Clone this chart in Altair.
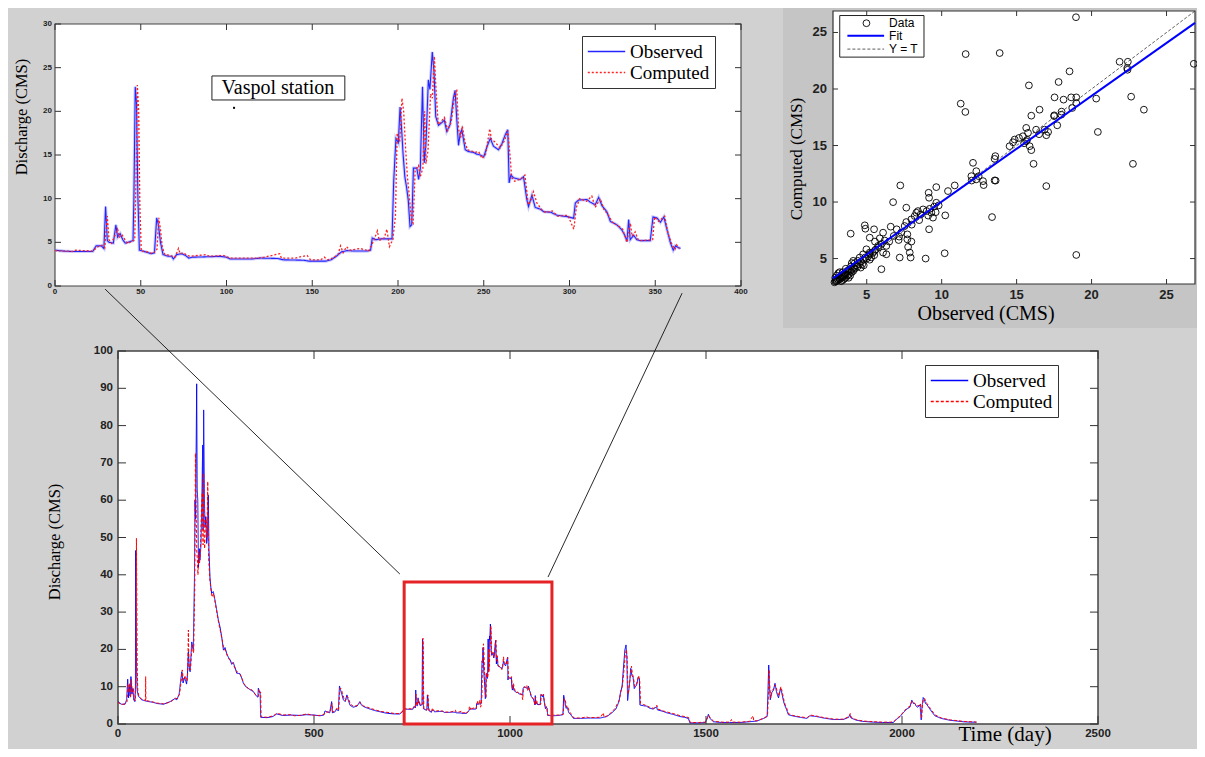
import altair as alt
import pandas as pd

# ---------------------------------------------------------------- data
SERIES = ["Observed", "Computed"]
ZOOM_START = 730          # inset day 0 corresponds to main-chart day 730

# inset (Vaspol station, one year)  (day, discharge)
inset_obs = [
    (0, 4.1), (5, 4.0), (10, 3.95), (22, 3.95), (24, 4.6), (27, 4.6), (28.5, 4.3), (29.5, 9.1), (30.5, 5.2), (31.5, 5.0),
    (34, 4.9), (35.5, 7.0), (36.5, 5.6), (38, 6.0), (39.5, 5.3), (41, 4.9), (44, 5.1), (45.5, 5.2), (46, 10.0), (46.8, 22.8),
    (47.5, 21.0), (48.3, 10.5), (49.2, 4.1), (53, 3.9), (56, 3.7), (58, 3.8), (59.3, 7.8), (60.3, 7.0), (61.5, 5.0), (63, 3.6),
    (66, 3.4), (68, 3.4), (69, 3.1), (71, 3.6), (74, 3.7), (76, 3.5), (78, 3.2), (80, 3.3), (90, 3.35), (96, 3.4),
    (100, 3.3), (102, 3.1), (115, 3.1), (120, 3.2), (130, 3.15), (133, 3.0), (145, 2.95), (148, 2.85), (158, 2.85), (161, 3.0),
    (164, 3.4), (167, 3.9), (170, 4.05), (175, 4.0), (182, 4.0), (184, 4.1), (185, 5.5), (187, 5.3), (190, 5.4), (196.5, 5.4),
    (197.5, 12.0), (198.8, 16.9), (200.2, 16.4), (201.2, 20.5), (202.1, 18.0), (203, 15.0), (204, 12.5), (205, 11.3), (206, 9.8), (207, 6.8),
    (208, 7.0), (209, 13.5), (211, 13.5), (212, 12.2), (213, 13.4), (214.3, 22.8), (215.3, 14.1), (216.3, 16.3), (217.7, 23.6), (218.6, 22.5),
    (220, 26.8), (221, 24.5), (222, 19.4), (223.6, 18.4), (225.5, 18.7), (227, 19.0), (228.4, 17.7), (230.4, 18.5), (232.3, 21.5), (233.3, 22.4),
    (234.3, 19.0), (235.3, 16.1), (236.3, 17.5), (237.2, 17.9), (239.2, 15.6), (241, 15.4), (244, 15.3), (246, 15.1), (248, 15.0), (250, 14.8),
    (252, 16.0), (253.8, 16.9), (255.7, 16.0), (258.6, 15.6), (260.6, 16.3), (262.5, 17.3), (264, 17.9), (264.8, 11.8), (265.8, 12.7), (267.3, 12.4),
    (271.2, 12.2), (273.2, 12.5), (275.1, 9.9), (276.1, 9.1), (278.1, 10.4), (280, 9.0), (283, 8.8), (285, 8.5), (289, 8.45), (292.7, 8.1),
    (298.5, 7.95), (302.4, 7.75), (303.4, 9.5), (305.3, 9.85), (310.2, 9.9), (312.1, 9.6), (315, 9.3), (317, 10.15), (318.9, 9.2), (321.8, 8.5),
    (323.8, 7.4), (327.7, 7.0), (330.6, 6.4), (332.5, 5.7), (333.5, 5.1), (334.5, 7.6), (335.4, 5.3), (337.4, 5.8), (339.3, 5.3), (341.3, 5.2),
    (347.1, 5.2), (348.7, 7.9), (351, 7.8), (353, 7.3), (355, 7.9), (356.9, 6.4), (358.9, 4.9), (360.5, 4.1), (361.8, 4.6), (363.4, 4.4),
    (364.7, 4.3),
]
inset_cmp = [
    (0, 4.05), (10, 3.95), (12, 4.1), (22, 4.0), (25, 4.5), (28, 4.7), (29, 4.4), (30.5, 8.0), (31.5, 5.3), (33, 4.9),
    (36.5, 6.5), (37.5, 5.6), (39, 5.9), (40.5, 5.4), (42, 4.9), (45, 5.1), (46.5, 5.3), (47.2, 12.0), (48, 23.0), (48.8, 20.0),
    (49.5, 9.0), (50.3, 4.0), (54, 3.9), (57, 3.7), (59.5, 4.2), (60.5, 7.8), (61.5, 6.5), (62.5, 4.5), (64, 3.6), (67, 3.5),
    (70, 3.3), (72, 4.3), (73, 3.7), (75, 3.8), (77, 3.5), (79, 3.4), (88, 3.6), (90, 3.4), (98, 3.5), (102, 3.2),
    (118, 3.2), (122, 3.3), (131, 3.7), (132, 3.2), (140, 3.2), (147, 3.5), (149, 3.0), (155, 3.0), (157, 3.3), (159, 3.0),
    (162, 3.2), (165, 3.6), (166.5, 4.6), (168, 3.8), (170, 4.5), (172, 4.1), (178, 4.3), (183, 4.0), (186, 5.3), (188, 6.3),
    (189, 5.2), (192, 5.5), (193.5, 6.5), (195, 4.5), (197, 5.3), (198.5, 8.0), (199.5, 17.5), (201, 16.5), (202.3, 21.5), (203.3, 20.0),
    (204.5, 15.5), (205.5, 12.5), (206.5, 10.5), (207.8, 7.5), (208.8, 7.2), (210, 13.2), (212, 13.8), (213, 12.5), (214.5, 13.5), (215.5, 20.0),
    (216.3, 14.0), (217.5, 15.5), (219, 22.0), (220, 21.5), (221.2, 26.3), (222.3, 22.0), (223.5, 18.5), (225, 18.8), (227, 19.3), (229, 17.8),
    (231, 18.8), (233, 21.8), (234.3, 22.5), (235.3, 18.0), (236.5, 17.0), (237.5, 18.3), (239, 16.5), (240.5, 15.6), (245, 15.3), (247, 15.4),
    (249, 14.6), (251, 15.0), (253.5, 18.0), (254.5, 16.8), (256.5, 16.5), (259.5, 15.8), (262, 16.6), (264, 17.8), (265.3, 15.0), (266.3, 12.4),
    (268, 12.0), (272, 12.3), (274, 12.7), (276, 9.3), (277.2, 9.6), (279, 10.8), (281, 9.5), (284, 8.7), (286, 8.4), (290, 8.6),
    (293, 8.0), (299, 8.1), (302.5, 6.5), (304, 9.0), (306, 10.0), (310, 9.7), (313, 10.3), (315, 9.0), (318, 10.0), (320, 8.8),
    (323, 8.0), (325, 7.3), (329, 6.8), (331, 6.5), (333.5, 5.0), (335.5, 7.2), (336.5, 5.7), (338.3, 6.2), (340, 5.3), (342, 5.2),
    (348.5, 5.3), (349.6, 7.9), (352, 7.4), (355.5, 8.0), (357.5, 6.0), (359.8, 4.7), (361.5, 4.2), (362.5, 4.7), (364, 4.3),
]

# main series outside the zoomed year  (day, discharge)
main_obs_a = [
    (0, 6.0), (9, 5.3), (18, 5.3), (22, 6.5), (24.7, 12.0), (27, 7.0), (29, 10.5), (31, 7.5), (33, 12.7), (35.5, 8.0),
    (38, 9.5), (40, 6.5), (43, 6.0), (44.5, 10.0), (45, 46.5), (46, 33.0), (47.5, 14.7), (49, 9.0), (52, 7.5), (60, 6.5),
    (73, 6.1), (90, 5.8), (99, 5.5), (116, 5.3), (133, 6.0), (145, 6.8), (150, 6.5), (156, 8.0), (158, 10.0), (162.7, 14.0),
    (166, 11.0), (170, 12.5), (175, 10.7), (177, 13.0), (179.5, 19.4), (182, 15.0), (184, 14.0), (188, 22.0), (192, 20.0), (195, 38.6),
    (196.4, 60.0), (198, 55.0), (200.7, 91.2), (202, 63.0), (203.5, 60.0), (205.3, 42.0), (207.5, 47.0), (209, 44.0), (211.7, 48.0), (214, 60.0),
    (216, 74.8), (217, 52.0), (218.5, 84.2), (220.5, 60.0), (222, 52.9), (224, 55.6), (226.2, 48.4), (228, 50.0), (230.4, 61.4), (232, 47.0),
    (234.7, 39.1), (237, 36.5), (239, 35.0), (243, 35.5), (247.4, 33.2), (251.7, 30.6), (256, 27.9), (260, 26.1), (264.5, 23.4), (269, 19.8),
    (273, 20.5), (277, 19.0), (281, 18.0), (286, 17.2), (290, 16.0), (294, 16.5), (299, 15.0), (303, 13.6), (311, 13.5), (316, 12.2),
    (320, 10.9), (326, 10.0), (333, 9.5), (340, 9.0), (345.4, 8.7), (350, 8.0), (354, 7.4), (357, 7.2), (358, 9.6), (361, 8.6),
    (362.5, 8.7), (364, 1.8), (380, 1.7), (395, 2.0), (405, 2.7), (420, 2.3), (440, 2.4), (464, 2.3), (480, 2.5), (500, 2.4),
    (515, 2.2), (525, 2.4), (528, 3.5), (540, 3.0), (545, 6.0), (547, 3.0), (553, 3.2), (558, 4.0), (562, 3.5), (565, 10.2),
    (568, 9.0), (571, 8.0), (575, 6.5), (579.5, 6.0), (584, 7.8), (587, 6.5), (592, 5.0), (600, 4.5), (610, 4.8), (617, 6.0),
    (620, 5.2), (626, 4.7), (635, 4.3), (643, 4.0), (655, 3.6), (668, 3.3), (680, 3.0), (694, 2.8), (705, 2.7), (719, 2.7),
    (725, 3.2),
]
main_obs_b = [
    (1096, 2.3), (1110, 2.2), (1125, 2.3), (1135, 2.5), (1137, 7.7), (1140, 6.0), (1143, 4.2), (1146, 4.5), (1150, 3.0), (1155, 2.5),
    (1162, 1.5), (1180, 1.5), (1200, 1.6), (1230, 1.6), (1247, 2.0), (1260, 3.0), (1270, 4.0), (1278, 6.0), (1282, 8.5), (1286, 10.0),
    (1289, 14.5), (1293, 19.8), (1296, 21.2), (1298, 18.0), (1300, 6.3), (1303, 9.0), (1306, 12.0), (1308, 14.9), (1311, 13.0), (1314, 12.5),
    (1317, 9.5), (1320, 10.0), (1323, 10.5), (1327, 12.5), (1330, 12.2), (1331.5, 5.1), (1340, 4.9), (1348, 4.8), (1355, 4.3), (1365, 4.0),
    (1374, 4.6), (1376, 3.8), (1390, 3.4), (1400, 3.0), (1415, 2.6), (1434, 2.0), (1445, 1.8), (1455, 1.5), (1459, 0.3), (1480, 0.3),
    (1498, 0.4), (1503, 1.5), (1506, 2.6), (1510, 1.5), (1519, 0.6), (1540, 0.4), (1560, 0.4), (1587, 0.4), (1610, 0.6), (1630, 0.8),
    (1647, 1.5), (1656, 2.0), (1658, 8.2), (1660, 15.8), (1662, 10.0), (1664, 6.5), (1668, 8.5), (1672, 9.0), (1676, 10.9), (1680, 8.5),
    (1685, 7.0), (1690, 9.6), (1693, 8.5), (1698, 6.0), (1701, 5.0), (1705, 4.0), (1710, 2.5), (1720, 2.2), (1740, 1.8), (1757, 1.5),
    (1765, 2.2), (1782, 2.0), (1800, 1.6), (1825, 1.2), (1850, 1.2), (1864, 1.8), (1867, 2.5), (1870, 1.6), (1884, 1.0), (1900, 0.7),
    (1927, 0.5), (1950, 0.4), (1969, 0.4), (1978, 0.4), (1985, 1.2), (1995, 2.0), (2003, 3.0), (2012, 4.0), (2020, 4.5), (2025, 6.4),
    (2029, 5.5), (2033, 5.5), (2036, 4.8), (2040, 4.5), (2046, 5.1), (2049, 1.1), (2051, 4.5), (2054, 7.1), (2057, 6.5), (2060, 5.5),
    (2063, 5.3), (2071, 4.0), (2078, 3.0), (2084, 2.2), (2100, 1.5), (2122, 1.0), (2140, 0.8), (2156, 0.6), (2175, 0.5), (2190, 0.5),
]
main_cmp_a = [
    (0, 5.8), (9, 5.2), (18, 5.4), (23, 6.0), (25.5, 10.5), (27.5, 8.5), (30, 11.0), (32, 7.0), (34, 12.0), (36.5, 8.5),
    (39, 9.5), (41, 6.8), (44, 6.2), (46, 12.0), (47, 49.8), (48, 35.0), (49, 15.0), (50.5, 9.0), (53, 7.5), (61, 6.6),
    (70, 6.3), (70.6, 12.7), (71.2, 6.3), (85, 6.0), (100, 5.6), (117, 5.4), (134, 5.9), (146, 6.9), (151, 6.8), (157, 8.0),
    (160, 10.5), (164, 14.5), (167, 11.5), (171, 13.0), (176, 11.5), (178, 14.0), (179.5, 25.2), (181, 15.0), (185, 14.5), (189, 21.0),
    (193, 19.0), (196, 38.0), (197.5, 72.6), (199, 60.0), (201, 46.0), (202.5, 44.0), (204, 40.0), (206, 46.0), (208, 43.0), (210, 46.0),
    (213, 58.0), (215, 62.0), (217, 48.0), (218.5, 67.2), (220, 50.0), (221, 47.0), (223, 54.0), (225, 55.0), (227, 50.0), (229, 65.0),
    (231, 45.0), (233, 41.0), (235, 38.0), (238, 35.5), (240, 34.0), (244, 35.0), (248, 32.5), (252, 30.0), (257, 27.0), (261, 25.0),
    (266, 22.5), (270, 20.0), (274, 19.8), (278, 18.5), (282, 17.5), (287, 17.0), (291, 16.5), (295, 15.8), (300, 14.5), (304, 14.0),
    (312, 13.2), (317, 12.0), (321, 10.8), (327, 10.2), (334, 9.3), (341, 9.2), (346, 8.5), (351, 7.8), (355, 7.5), (358, 7.4),
    (359, 9.2), (362, 8.3), (364, 8.5), (365, 1.9), (381, 1.8), (396, 2.2), (406, 2.9), (421, 2.4), (441, 2.5), (450, 2.2),
    (465, 2.3), (481, 2.7), (501, 2.3), (516, 2.3), (526, 2.6), (529, 3.2), (541, 3.2), (546, 5.5), (548, 3.2), (554, 3.5),
    (559, 4.3), (563, 3.8), (566, 9.5), (569, 9.5), (572, 8.5), (576, 7.0), (580, 6.2), (585, 7.5), (588, 6.8), (593, 5.3),
    (601, 4.7), (611, 5.0), (618, 5.8), (621, 5.3), (627, 4.8), (636, 4.5), (644, 4.2), (656, 3.8), (669, 3.4), (681, 3.2),
    (695, 3.0), (706, 2.8), (720, 2.8), (726, 3.5),
]
main_cmp_b = [
    (1096, 2.4), (1111, 2.4), (1126, 2.4), (1136, 2.6), (1138, 6.8), (1141, 6.5), (1144, 4.5), (1147, 4.8), (1151, 3.4), (1156, 2.7),
    (1163, 1.6), (1181, 1.6), (1195, 1.9), (1201, 1.7), (1231, 1.8), (1238, 3.0), (1240, 1.8), (1248, 2.2), (1261, 3.3), (1268, 4.2),
    (1279, 6.5), (1283, 8.8), (1287, 10.5), (1290, 13.5), (1294, 18.5), (1297, 20.0), (1299, 17.5), (1301, 8.0), (1304, 10.0), (1307, 13.0),
    (1310, 15.5), (1312, 13.5), (1315, 12.5), (1318, 10.0), (1321, 10.5), (1324, 11.0), (1328, 13.0), (1331, 11.5), (1333, 5.5), (1341, 5.2),
    (1349, 4.9), (1356, 4.5), (1366, 4.2), (1375, 5.0), (1377, 4.0), (1391, 3.5), (1401, 3.2), (1416, 2.8), (1435, 2.2), (1446, 2.0),
    (1456, 1.7), (1460, 0.4), (1481, 0.4), (1499, 0.5), (1504, 1.8), (1507, 2.3), (1511, 1.6), (1520, 0.7), (1541, 0.5), (1561, 0.5),
    (1565, 1.2), (1567, 0.5), (1588, 0.5), (1611, 0.7), (1620, 2.2), (1622, 0.8), (1631, 0.9), (1648, 1.6), (1657, 2.2), (1659, 7.5),
    (1661, 14.5), (1663, 9.5), (1665, 7.0), (1669, 9.0), (1673, 9.5), (1677, 10.5), (1681, 9.0), (1686, 7.5), (1691, 10.0), (1694, 8.8),
    (1699, 6.3), (1702, 5.2), (1706, 4.2), (1711, 2.7), (1721, 2.3), (1741, 1.9), (1758, 1.7), (1766, 2.4), (1783, 2.1), (1801, 1.7),
    (1826, 1.3), (1851, 1.3), (1865, 2.0), (1868, 2.8), (1871, 1.7), (1885, 1.1), (1901, 0.8), (1928, 0.6), (1951, 0.5), (1970, 0.5),
    (1979, 0.6), (1986, 1.4), (1996, 2.2), (2004, 3.3), (2013, 4.3), (2021, 4.8), (2026, 6.2), (2030, 5.8), (2034, 5.3), (2037, 5.0),
    (2041, 4.8), (2047, 5.5), (2050, 1.5), (2052, 4.8), (2055, 6.8), (2058, 6.8), (2061, 5.8), (2064, 5.5), (2072, 4.2), (2079, 3.2),
    (2085, 2.4), (2101, 1.6), (2123, 1.1), (2141, 0.9), (2157, 0.7), (2176, 0.6), (2190, 0.5),
]

# scatter: (observed, computed)
scatter_pts = [
    (2.85, 2.9), (2.9, 3.0), (2.95, 3.1), (3.0, 3.0), (3.05, 3.2), (3.1, 3.1), (3.15, 3.3), (3.2, 3.2), (3.25, 3.4), (3.3, 3.3),
    (3.35, 3.5), (3.4, 3.4), (3.45, 3.6), (3.5, 3.5), (3.55, 3.7), (3.6, 3.6), (3.0, 3.5), (3.1, 3.7), (3.2, 3.8), (2.9, 3.3),
    (3.3, 3.0), (3.4, 3.1), (3.5, 3.2), (3.6, 3.3), (3.7, 3.5), (3.8, 3.6), (3.7, 3.9), (3.8, 4.0), (3.9, 3.9), (4.0, 4.0),
    (4.1, 4.2), (3.95, 4.3), (4.0, 3.8), (4.1, 3.9), (4.2, 4.1), (4.3, 4.4), (4.2, 4.6), (4.4, 4.3), (4.5, 4.5), (4.6, 4.7),
    (4.4, 4.8), (4.7, 4.5), (4.8, 4.9), (4.9, 5.1), (5.0, 5.0), (5.1, 5.2), (4.6, 4.2), (4.8, 4.4), (5.2, 5.4), (5.3, 5.1),
    (5.4, 5.5), (5.5, 5.3), (5.6, 5.8), (5.2, 4.9), (4.0, 4.6), (4.1, 4.8), (3.6, 4.1), (3.4, 3.8), (3.8, 3.3), (3.9, 3.5),
    (3.93, 7.2), (4.87, 7.94), (4.91, 7.64), (4.53, 5.09), (4.76, 5.38), (4.98, 5.82), (5.2, 5.53), (5.53, 5.68), (5.76, 6.12), (6.09, 5.53),
    (5.98, 4.06), (6.09, 7.29), (6.31, 6.12), (5.87, 6.79), (6.31, 5.38), (5.49, 7.59), (5.2, 6.85), (5.55, 6.5), (6.6, 7.82), (7.0, 7.59),
    (7.16, 6.94), (7.13, 6.64), (7.2, 5.09), (7.71, 6.7), (7.71, 7.14), (7.76, 6.03), (7.98, 6.5), (7.87, 5.53), (7.93, 5.09), (7.53, 7.88),
    (7.64, 8.23), (7.98, 8.47), (8.2, 8.76), (8.31, 9.06), (8.42, 9.2), (7.24, 11.47), (6.76, 9.99), (7.64, 9.5), (8.93, 5.0), (9.16, 7.59),
    (10.2, 5.47), (10.24, 8.82), (8.76, 9.35), (9.31, 9.06), (9.42, 8.62), (9.0, 9.2), (9.2, 9.4), (9.5, 9.6), (9.1, 8.8), (9.6, 9.1),
    (9.64, 9.94), (9.16, 10.38), (9.13, 10.82), (9.64, 11.32), (10.42, 10.97), (10.87, 11.47), (9.8, 9.7), (8.5, 8.4), (8.0, 8.0), (8.6, 8.9),
    (6.5, 6.5), (6.0, 6.3), (6.8, 7.0), (7.3, 7.3), (5.8, 6.0), (6.2, 6.6),
    (11.27, 18.7), (11.58, 17.97), (11.6, 23.09), (13.87, 23.18), (12.09, 13.47), (12.31, 12.73), (11.98, 12.29), (12.47, 12.29), (12.76, 11.85), (12.8, 11.5),
    (12.0, 11.9), (12.3, 12.0), (13.58, 14.06), (13.53, 13.82), (13.53, 11.91), (13.6, 11.9), (13.36, 8.67), (14.53, 14.94), (14.76, 15.29), (14.87, 15.53),
    (15.16, 15.67), (15.42, 15.82), (15.64, 15.38), (15.87, 14.94), (15.98, 14.59), (15.64, 16.56), (15.76, 16.12), (15.5, 15.2), (15.7, 15.5), (16.13, 13.38),
    (15.98, 17.64), (16.53, 18.17), (16.87, 16.41), (16.98, 15.91), (16.98, 11.41), (16.5, 16.0), (17.51, 17.67), (17.71, 16.79), (17.53, 19.26), (17.8, 20.62),
    (17.98, 17.73), (18.13, 19.06), (18.53, 21.56), (18.64, 19.26), (18.71, 18.32), (18.98, 18.76), (18.98, 19.26), (18.96, 26.35), (18.98, 5.32), (15.82, 20.32),
    (20.31, 19.15), (20.42, 16.2), (21.87, 22.41), (22.42, 22.41), (22.38, 21.85), (22.4, 21.7), (22.64, 19.32), (22.76, 13.38), (23.49, 18.17), (26.82, 22.23),
    (16.3, 16.4), (17.1, 16.2), (17.5, 17.6), (18.0, 18.0),
]
fit_obs = [2.75, 26.9]
fit_cmp = [3.25, 25.85]
identity_line = [2.75, 26.9]

# ticks and tick labels
inset_x_ticks = [0, 50, 100, 150, 200, 250, 300, 350, 400]
inset_y_ticks = [0, 5, 10, 15, 20, 25, 30]
main_x_ticks = [0, 500, 1000, 1500, 2000, 2500]
main_y_ticks = [0, 10, 20, 30, 40, 50, 60, 70, 80, 90, 100]
sc_ticks = [5, 10, 15, 20, 25]

# axis titles: (text, x, y, angle) in each panel's data units
inset_titles = [("Discharge (CMS)", -19.2, 19.35, 270)]
scatter_titles = [("Observed (CMS)", 12.96, 0.10, 0), ("Computed (CMS)", 0.35, 13.81, 270)]
main_titles = [("Time (day)", 2263, -2.9, 0), ("Discharge (CMS)", -160.7, 48.8, 270)]

# annotations
station_label = ["Vaspol station"]
station_pos = [(130, 22.67)]
station_box = [(91.5, 169.0, 21.3, 24.05)]
station_dot = [(104.4, 20.4)]
zoom_box = [(730, 1107, 0, 38.1)]
connectors = [(719, 40.2, -33, 116.6), (1097, 39.4, 1439, 115.5)]
sc_legend_labels = ["Data", "Fit", "Y = T"]
sc_legend_rows = [25.82, 24.7, 23.53]
sc_legend_box = [(3.2, 8.82, 22.82, 26.5)]
sc_legend_line = [3.71, 6.16]
sc_legend_marker_x = [4.98]
sc_legend_text_x = [6.49]

# ---------------------------------------------------------------- style / layout
SERIF = "Liberation Serif"
SANS = "Liberation Sans"
W, H = 1189, 741
BG = "#d1d1d1"
PANEL = "#c5c5c5"

INS_XD, INS_YD = [0, 400], [0, 30]
SC_XD, SC_YD = [2.75, 26.9], [2.75, 26.9]
MN_XD, MN_YD = [0, 2500], [0, 100]
INS_XR, INS_YR = [47, 733], [278, 16]
SC_XR, SC_YR = [825, 1187], [276, 3]
MN_XR, MN_YR = [110, 1090], [716, 343]

ins_xs = alt.Scale(domain=INS_XD, range=INS_XR, nice=False, zero=False)
ins_ys = alt.Scale(domain=INS_YD, range=INS_YR, nice=False, zero=False)
sc_xs = alt.Scale(domain=SC_XD, range=SC_XR, nice=False, zero=False)
sc_ys = alt.Scale(domain=SC_YD, range=SC_YR, nice=False, zero=False)
mn_xs = alt.Scale(domain=MN_XD, range=MN_XR, nice=False, zero=False)
mn_ys = alt.Scale(domain=MN_YD, range=MN_YR, nice=False, zero=False)


def X(field, sc):
    return alt.X(field, scale=sc, axis=None)


def Y(field, sc):
    return alt.Y(field, scale=sc, axis=None)


def frame(xs, ys, xd, yd, stroke, width):
    df = pd.DataFrame({"x0": [xd[0]], "x1": [xd[1]], "y0": [yd[0]], "y1": [yd[1]]})
    return alt.Chart(df).mark_rect(fill="white", stroke=stroke, strokeWidth=width).encode(
        x=X("x0:Q", xs), x2="x1:Q", y=Y("y0:Q", ys), y2="y1:Q")


def inward_ticks(xs, ys, xd, yd, xr, yr, xt, yt, px):
    ux = (xd[1] - xd[0]) / abs(xr[1] - xr[0]) * px
    uy = (yd[1] - yd[0]) / abs(yr[1] - yr[0]) * px
    n, m = len(xt), len(yt)
    v = pd.DataFrame({"t": xt + xt, "a": [yd[0]] * n + [yd[1]] * n,
                      "b": [yd[0] + uy] * n + [yd[1] - uy] * n})
    h = pd.DataFrame({"t": yt + yt, "a": [xd[0]] * m + [xd[1]] * m,
                      "b": [xd[0] + ux] * m + [xd[1] - ux] * m})
    vr = alt.Chart(v).mark_rule(color="#333333", strokeWidth=1).encode(
        x=X("t:Q", xs), y=Y("a:Q", ys), y2="b:Q")
    hr = alt.Chart(h).mark_rule(color="#333333", strokeWidth=1).encode(
        y=Y("t:Q", ys), x=X("a:Q", xs), x2="b:Q")
    return [vr, hr]


def tick_labels(xs, ys, xd, yd, xt, yt, size, xpad, ypad):
    dx_ = pd.DataFrame({"t": xt, "b": [yd[0]] * len(xt), "lab": [str(v) for v in xt]})
    dy_ = pd.DataFrame({"t": yt, "b": [xd[0]] * len(yt), "lab": [str(v) for v in yt]})
    lx = alt.Chart(dx_).mark_text(font=SANS, fontSize=size, fontWeight="bold", color="#222222",
                                  align="center", baseline="top", dy=ypad).encode(
        x=X("t:Q", xs), y=Y("b:Q", ys), text="lab:N")
    ly = alt.Chart(dy_).mark_text(font=SANS, fontSize=size, fontWeight="bold", color="#222222",
                                  align="right", baseline="middle", dx=-xpad).encode(
        x=X("b:Q", xs), y=Y("t:Q", ys), text="lab:N")
    return [lx, ly]


def axis_titles(xs, ys, titles, sizes):
    out = []
    for (txt, tx, ty, ang), sz in zip(titles, sizes):
        df = pd.DataFrame({"x": [tx], "y": [ty], "t": [txt]})
        out.append(alt.Chart(df).mark_text(font=SERIF, fontSize=sz, color="black", align="center",
                                           baseline="middle", angle=ang).encode(
            x=X("x:Q", xs), y=Y("y:Q", ys), text="t:N"))
    return out


def series_legend(lx, ly):
    return alt.Legend(title=None, orient="none", legendX=lx, legendY=ly, direction="vertical",
                      symbolType="stroke", symbolSize=1400, symbolStrokeWidth=1.3,
                      clipHeight=21, rowPadding=0, padding=5, labelOffset=4,
                      labelFont=SERIF, labelFontSize=19, labelColor="black", labelLimit=250,
                      strokeColor="#333333", fillColor="white")


def series_df(pairs, name, shift=0):
    return pd.DataFrame({"day": [p[0] + shift for p in pairs], "q": [p[1] for p in pairs], "series": name})


def series_line(df, xs, ys, cscale, dscale, legend, width):
    return alt.Chart(df).mark_line(strokeWidth=width).encode(
        x=X("day:Q", xs), y=Y("q:Q", ys),
        color=alt.Color("series:N", scale=cscale, legend=legend),
        strokeDash=alt.StrokeDash("series:N", scale=dscale, legend=legend))


# ---------------------------------------------------------------- inset panel
ins_c = alt.Scale(domain=SERIES, range=["#2424ff", "#ff2020"])
ins_d = alt.Scale(domain=SERIES, range=[[1, 0], [2, 2]])
ins_leg = series_legend(574, 28)
ins_obs_df = series_df(inset_obs, "Observed")
ins_cmp_df = series_df(inset_cmp, "Computed")

ins_frame = frame(ins_xs, ins_ys, INS_XD, INS_YD, "#444444", 1.1)
ins_halo = alt.Chart(ins_obs_df).mark_line(color="#8c8cff", strokeWidth=3.2, opacity=0.45).encode(
    x=X("day:Q", ins_xs), y=Y("q:Q", ins_ys))
ins_obs_line = series_line(ins_obs_df, ins_xs, ins_ys, ins_c, ins_d, ins_leg, 1.1)
ins_cmp_line = series_line(ins_cmp_df, ins_xs, ins_ys, ins_c, ins_d, ins_leg, 1.3)

st_box_df = pd.DataFrame({"x0": [b[0] for b in station_box], "x1": [b[1] for b in station_box],
                          "y0": [b[2] for b in station_box], "y1": [b[3] for b in station_box]})
st_box = alt.Chart(st_box_df).mark_rect(fill="white", stroke="#222222", strokeWidth=1).encode(
    x=X("x0:Q", ins_xs), x2="x1:Q", y=Y("y0:Q", ins_ys), y2="y1:Q")
st_txt_df = pd.DataFrame({"x": [p[0] for p in station_pos], "y": [p[1] for p in station_pos], "t": station_label})
st_txt = alt.Chart(st_txt_df).mark_text(font=SERIF, fontSize=20, color="black", align="center",
                                         baseline="middle").encode(
    x=X("x:Q", ins_xs), y=Y("y:Q", ins_ys), text="t:N")
st_dot_df = pd.DataFrame({"x": [p[0] for p in station_dot], "y": [p[1] for p in station_dot]})
st_dot = alt.Chart(st_dot_df).mark_square(size=4, color="black", opacity=1).encode(
    x=X("x:Q", ins_xs), y=Y("y:Q", ins_ys))

inset = alt.layer(ins_frame, ins_halo, ins_obs_line, ins_cmp_line,
                  *inward_ticks(ins_xs, ins_ys, INS_XD, INS_YD, INS_XR, INS_YR, inset_x_ticks, inset_y_ticks, 6),
                  *tick_labels(ins_xs, ins_ys, INS_XD, INS_YD, inset_x_ticks, inset_y_ticks, 8, 3, 2),
                  *axis_titles(ins_xs, ins_ys, inset_titles, [16.5]),
                  st_box, st_txt, st_dot)

# ---------------------------------------------------------------- scatter panel
panel_bg = alt.Chart(pd.DataFrame({"k": [0]})).mark_rect(color=PANEL).encode(
    x=alt.value(775), x2=alt.value(W), y=alt.value(0), y2=alt.value(320))
sc_frame = frame(sc_xs, sc_ys, SC_XD, SC_YD, "#333333", 1.2)
sc_df = pd.DataFrame({"obs": [p[0] for p in scatter_pts], "cmp": [p[1] for p in scatter_pts]})
sc_points = alt.Chart(sc_df).mark_point(shape="circle", filled=False, size=46, color="black",
                                        strokeWidth=0.9, opacity=1).encode(
    x=X("obs:Q", sc_xs), y=Y("cmp:Q", sc_ys))
idl = alt.Chart(pd.DataFrame({"o": identity_line, "c": identity_line})).mark_line(
    color="#333333", strokeWidth=0.8, strokeDash=[3, 2]).encode(
    x=X("o:Q", sc_xs), y=Y("c:Q", sc_ys))
fit = alt.Chart(pd.DataFrame({"o": fit_obs, "c": fit_cmp})).mark_line(
    color="#0000ff", strokeWidth=2).encode(
    x=X("o:Q", sc_xs), y=Y("c:Q", sc_ys))

lb = sc_legend_box[0]
sc_leg_box = alt.Chart(pd.DataFrame({"x0": [lb[0]], "x1": [lb[1]], "y0": [lb[2]], "y1": [lb[3]]})).mark_rect(
    fill="white", stroke="#222222", strokeWidth=1).encode(
    x=X("x0:Q", sc_xs), x2="x1:Q", y=Y("y0:Q", sc_ys), y2="y1:Q")
sc_leg_marker = alt.Chart(pd.DataFrame({"x": sc_legend_marker_x, "y": sc_legend_rows[:1]})).mark_point(
    shape="circle", filled=False, size=46, color="black", strokeWidth=0.9, opacity=1).encode(
    x=X("x:Q", sc_xs), y=Y("y:Q", sc_ys))
sc_leg_fit = alt.Chart(pd.DataFrame({"x0": [sc_legend_line[0]], "x1": [sc_legend_line[1]], "y": [sc_legend_rows[1]]})).mark_rule(
    color="#0000ff", strokeWidth=2).encode(
    x=X("x0:Q", sc_xs), x2="x1:Q", y=Y("y:Q", sc_ys))
sc_leg_id = alt.Chart(pd.DataFrame({"x0": [sc_legend_line[0]], "x1": [sc_legend_line[1]], "y": [sc_legend_rows[2]]})).mark_rule(
    color="#333333", strokeWidth=0.8, strokeDash=[3, 2]).encode(
    x=X("x0:Q", sc_xs), x2="x1:Q", y=Y("y:Q", sc_ys))
sc_leg_txt = alt.Chart(pd.DataFrame({"x": sc_legend_text_x * 3, "y": sc_legend_rows, "t": sc_legend_labels})).mark_text(
    font=SANS, fontSize=12, color="black", align="left", baseline="middle").encode(
    x=X("x:Q", sc_xs), y=Y("y:Q", sc_ys), text="t:N")

scatter = alt.layer(panel_bg, sc_frame, sc_points, idl, fit,
                    *inward_ticks(sc_xs, sc_ys, SC_XD, SC_YD, SC_XR, SC_YR, sc_ticks, sc_ticks, 5),
                    *tick_labels(sc_xs, sc_ys, SC_XD, SC_YD, sc_ticks, sc_ticks, 13, 6, 5),
                    *axis_titles(sc_xs, sc_ys, scatter_titles, [20, 17]),
                    sc_leg_box, sc_leg_marker, sc_leg_fit, sc_leg_id, sc_leg_txt)

# ---------------------------------------------------------------- main panel
mn_c = alt.Scale(domain=SERIES, range=["#0000ff", "#ff0000"])
mn_d = alt.Scale(domain=SERIES, range=[[1, 0], [3, 2]])
mn_leg = series_legend(917, 357)
mn_obs_df = pd.concat([series_df(main_obs_a, "Observed"), series_df(inset_obs, "Observed", ZOOM_START),
                       series_df(main_obs_b, "Observed")], ignore_index=True)
mn_cmp_df = pd.concat([series_df(main_cmp_a, "Computed"), series_df(inset_cmp, "Computed", ZOOM_START),
                       series_df(main_cmp_b, "Computed")], ignore_index=True)

mn_frame = frame(mn_xs, mn_ys, MN_XD, MN_YD, "#444444", 1.5)
mn_obs_line = series_line(mn_obs_df, mn_xs, mn_ys, mn_c, mn_d, mn_leg, 1.0)
mn_cmp_line = series_line(mn_cmp_df, mn_xs, mn_ys, mn_c, mn_d, mn_leg, 1.0)
zb = zoom_box[0]
mn_zoom = alt.Chart(pd.DataFrame({"x0": [zb[0]], "x1": [zb[1]], "y0": [zb[2]], "y1": [zb[3]]})).mark_rect(
    fill="transparent", stroke="#e52226", strokeWidth=3).encode(
    x=X("x0:Q", mn_xs), x2="x1:Q", y=Y("y0:Q", mn_ys), y2="y1:Q")
con_df = pd.DataFrame({"x0": [c[0] for c in connectors], "y0": [c[1] for c in connectors],
                       "x1": [c[2] for c in connectors], "y1": [c[3] for c in connectors]})
mn_conn = alt.Chart(con_df).mark_rule(color="#111111", strokeWidth=0.9).encode(
    x=X("x0:Q", mn_xs), y=Y("y0:Q", mn_ys), x2="x1:Q", y2="y1:Q")

main = alt.layer(mn_frame, mn_obs_line, mn_cmp_line,
                 *inward_ticks(mn_xs, mn_ys, MN_XD, MN_YD, MN_XR, MN_YR, main_x_ticks, main_y_ticks, 8),
                 *tick_labels(mn_xs, mn_ys, MN_XD, MN_YD, main_x_ticks, main_y_ticks, 11.5, 5, 4),
                 *axis_titles(mn_xs, mn_ys, main_titles, [21, 16.5]),
                 mn_zoom, mn_conn)

# ---------------------------------------------------------------- assemble
chart = alt.layer(inset, scatter, main).resolve_scale(
    x="independent", y="independent", color="independent", strokeDash="independent"
).resolve_legend(
    color="independent", strokeDash="independent"
).properties(
    width=W, height=H, background=BG, padding=0,
    autosize=alt.AutoSizeParams(type="none")
).configure_view(stroke=None)

chart.save("out.html", embed_options={"renderer": "svg", "actions": False})
